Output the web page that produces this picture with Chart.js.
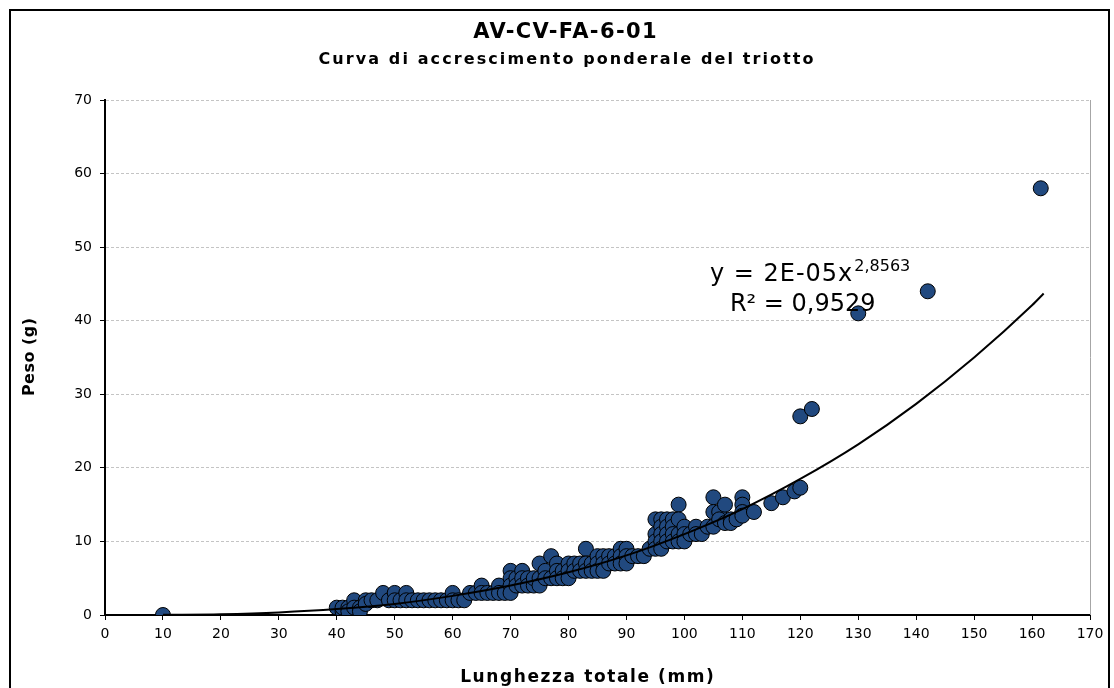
<!DOCTYPE html>
<html lang="it">
<head>
  <meta charset="UTF-8" />
  <title>AV-CV-FA-6-01</title>
  <script src="https://cdn.jsdelivr.net/npm/chart.js"></script>
  <style>
    html, body { margin: 0; padding: 0; background: #fff; overflow: hidden; }
    .frame {
      position: absolute; left: 9px; top: 9px;
      width: 1097px; height: 700px;
      border: 2px solid #000;
    }
    #wrap { position: absolute; left: 0; top: 0; width: 1114px; height: 688px; }
  </style>
</head>
<body>
  <div class="frame"></div>
  <div id="wrap"><canvas id="chart" width="1114" height="688"></canvas></div>

  <script>
    // lunghezza totale (mm) e peso (g) dei singoli esemplari
    const lunghezza = [
      10,
      40, 41, 41, 42, 42, 43, 43, 44, 44, 45, 45, 46, 47, 48, 49, 50, 50, 51, 52, 52,
      53, 54, 55, 56, 57, 58, 59, 60, 60, 61, 62, 63, 64, 65, 65, 66, 67, 68, 68, 69,
      70, 70, 70, 70, 71, 71, 72, 72, 72, 73, 73, 74, 74, 75, 75, 75, 76, 76, 77, 77,
      78, 78, 78, 79, 79, 80, 80, 80, 81, 81, 82, 82, 83, 83, 83, 84, 84, 85, 85, 85,
      86, 86, 86, 87, 87, 88, 88, 89, 89, 89, 90, 90, 90, 91, 92, 93, 94,
      95, 95, 95, 95, 96, 96, 96, 96, 96, 97, 97, 97, 97, 98, 98, 98, 98,
      99, 99, 99, 99, 100, 100, 100, 101, 102, 102, 103, 104,
      105, 105, 105, 106, 106, 107, 107, 108, 108, 109, 110, 110, 110, 110,
      112, 115, 117, 119, 120, 120, 122, 130, 142, 161.5
    ];
    const peso = [
      0,
      1, 0.5, 1, 1, 0.5, 2, 1, 1, 0.5, 2, 1.5, 2, 2, 3, 2, 3, 2, 2, 3, 2,
      2, 2, 2, 2, 2, 2, 2, 3, 2, 2, 2, 3, 3, 4, 3, 3, 3, 4, 3, 3,
      6, 5, 4, 3, 5, 4, 6, 5, 4, 5, 4, 4, 5, 7, 5, 4, 6, 5, 8, 5,
      7, 6, 5, 6, 5, 7, 6, 5, 7, 6, 7, 6, 9, 7, 6, 7, 6, 8, 7, 6,
      8, 7, 6, 8, 7, 8, 7, 9, 8, 7, 9, 8, 7, 8, 8, 8, 9,
      13, 11, 10, 9, 13, 12, 11, 10, 9, 13, 12, 11, 10, 13, 12, 11, 10,
      15, 13, 11, 10, 12, 11, 10, 11, 12, 11, 11, 12,
      16, 14, 12, 14, 13, 15, 12.5, 13, 12.5, 13, 16, 15, 14, 13.5,
      14, 15.2, 16, 16.8, 17.3, 27, 28, 41, 44, 58
    ];

    // linea di tendenza (potenza)
    const trendX = [10, 20, 30, 40, 50, 60, 70, 80, 90, 100, 110, 120, 130, 140, 150, 160, 162];
    const trendY = [0.02, 0.11, 0.35, 0.8, 1.5, 2.6, 4.0, 5.8, 8.1, 11.0, 14.4, 18.5, 23.2, 28.7, 35.0, 42.1, 43.7];

    const titolo = 'AV-CV-FA-6-01';
    const sottotitolo = 'Curva di accrescimento ponderale del triotto';
    const xTitolo = 'Lunghezza totale (mm)';
    const yTitolo = 'Peso (g)';
    const equation = 'y = 2E-05x';
    const exponent = '2,8563';
    const rSquared = 'R² = 0,9529';
    const eqAnchor = [104.4, 45.4]; // mm, g

    const FONT = '"DejaVu Sans", Verdana, sans-serif';

    const points = lunghezza.map((v, i) => ({ x: v, y: peso[i] }));
    const trend = trendX.map((v, i) => ({ x: v, y: trendY[i] }));

    function spaced(ctx, text, x, y, font, spacing, angle) {
      ctx.save();
      ctx.translate(x, y);
      if (angle) ctx.rotate(angle);
      ctx.font = font;
      ctx.letterSpacing = spacing + 'px';
      ctx.textAlign = 'center';
      ctx.textBaseline = 'middle';
      ctx.fillStyle = '#000';
      ctx.fillText(text, spacing / 2, 0);
      ctx.restore();
    }

    const extras = {
      id: 'extras',
      afterDraw(chart) {
        const { ctx, chartArea, scales: { x, y } } = chart;
        ctx.save();
        ctx.strokeStyle = '#a6a6a6';
        ctx.lineWidth = 1;
        ctx.beginPath();
        ctx.moveTo(chartArea.right + 0.5, chartArea.top);
        ctx.lineTo(chartArea.right + 0.5, chartArea.bottom);
        ctx.stroke();
        ctx.restore();

        spaced(ctx, titolo, 565, 33, 'bold 21px ' + FONT, 1.4);
        spaced(ctx, sottotitolo, 566, 60, 'bold 16px ' + FONT, 2.1);
        spaced(ctx, xTitolo, 587, 678, 'bold 17px ' + FONT, 1.6);
        spaced(ctx, yTitolo, 30, 357, 'bold 16px ' + FONT, 0.5, -Math.PI / 2);

        const px = x.getPixelForValue(eqAnchor[0]);
        const py = y.getPixelForValue(eqAnchor[1]);
        ctx.save();
        ctx.fillStyle = '#000';
        ctx.textBaseline = 'alphabetic';
        ctx.font = '24px ' + FONT;
        ctx.letterSpacing = '1px';
        ctx.fillText(equation, px, py);
        const w = ctx.measureText(equation).width;
        ctx.letterSpacing = '0px';
        ctx.fillText(rSquared, px + 20, py + 30);
        ctx.font = '16px ' + FONT;
        ctx.fillText(exponent, px + w + 1, py - 10);
        ctx.restore();
      }
    };

    new Chart(document.getElementById('chart'), {
      type: 'scatter',
      data: {
        datasets: [
          {
            label: 'tendenza',
            data: trend,
            showLine: true,
            borderColor: '#000',
            borderWidth: 2,
            pointRadius: 0,
            cubicInterpolationMode: 'monotone',
            fill: false,
            order: 0
          },
          {
            label: 'peso',
            data: points,
            backgroundColor: '#21497f',
            borderColor: '#000',
            borderWidth: 1,
            pointRadius: 7.5,
            order: 1
          }
        ]
      },
      options: {
        responsive: false,
        animation: false,
        layout: { padding: { top: 100, right: 24, bottom: 0, left: 10 } },
        plugins: {
          legend: { display: false },
          tooltip: { enabled: false }
        },
        scales: {
          x: {
            type: 'linear',
            min: 0,
            max: 170,
            afterFit: s => { s.height = 73; },
            ticks: { stepSize: 10, color: '#000', font: { family: FONT, size: 14 }, padding: 6 },
            grid: { drawOnChartArea: false, color: '#000', tickLength: 5 },
            border: { color: '#000', width: 2 }
          },
          y: {
            min: 0,
            max: 70,
            afterFit: s => { s.width = 95; },
            ticks: { stepSize: 10, color: '#000', font: { family: FONT, size: 14 }, padding: 8 },
            grid: { color: '#c4c4c4', lineWidth: 1, tickLength: 5, tickColor: '#000', tickBorderDash: [] },
            border: { color: '#000', width: 2, dash: [3, 2] }
          }
        }
      },
      plugins: [extras]
    });
  </script>
</body>
</html>
